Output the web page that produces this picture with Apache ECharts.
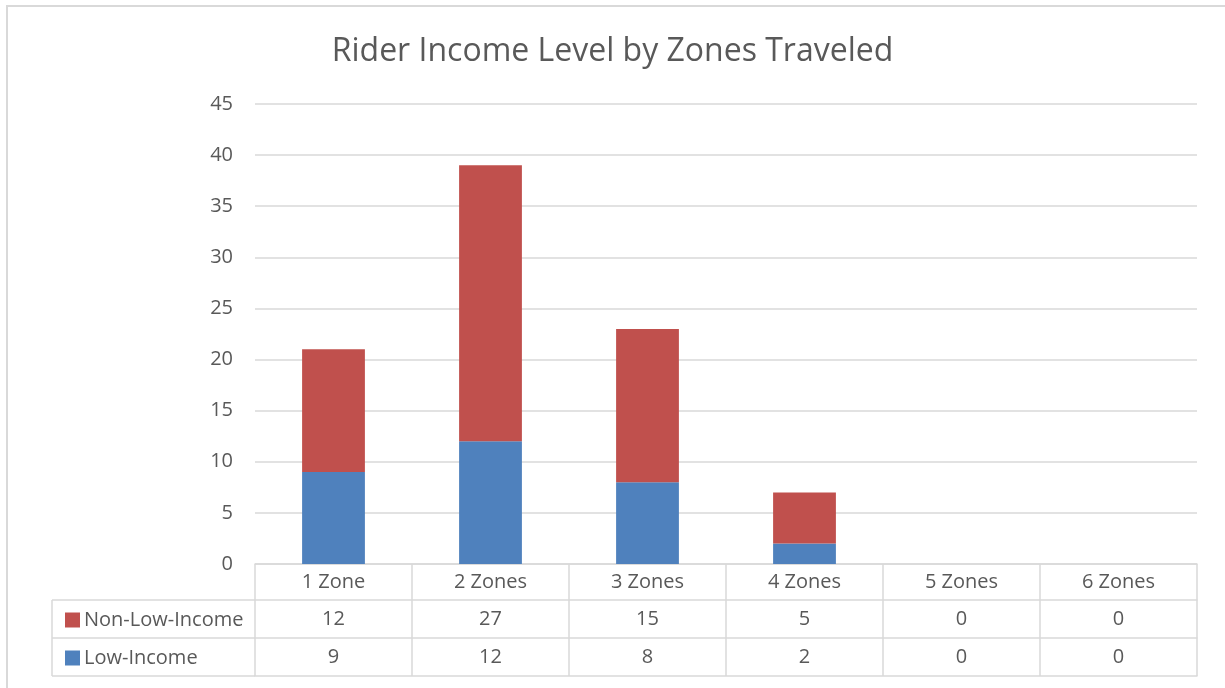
<!DOCTYPE html>
<html>
<head>
<meta charset="utf-8">
<script src="https://cdn.jsdelivr.net/npm/echarts@6/dist/echarts.min.js"></script>
<style>
  html, body { margin: 0; padding: 0; background: #fff; }
  #chart { width: 1225px; height: 688px; }
</style>
</head>
<body>
<div id="chart"></div>
<script>
const zones = ['1 Zone', '2 Zones', '3 Zones', '4 Zones', '5 Zones', '6 Zones'];
const lowIncome = [9, 12, 8, 2, 0, 0];
const nonLowIncome = [12, 27, 15, 5, 0, 0];

const textColor = '#595959';
const lineColor = '#D9D9D9';
const font = '"Open Sans", "Liberation Sans", sans-serif';

const myChart = echarts.init(document.getElementById('chart'));

// table row axes (value rows under the category axis)
const rowAxis = (data, offset, showLabel) => ({
  type: 'category',
  position: 'bottom',
  data: data,
  offset: offset,
  boundaryGap: true,
  axisLine: { show: true, lineStyle: { color: lineColor, width: 1.5 } },
  axisTick: { show: false },
  axisLabel: { show: showLabel, color: textColor, fontSize: 20, fontFamily: font, margin: 9 },
  splitLine: { show: false }
});

const option = {
  animation: false,
  backgroundColor: '#fff',
  title: {
    text: 'Rider Income Level by Zones Traveled',
    left: 'center',
    top: 31,
    textStyle: { color: textColor, fontSize: 32, fontWeight: 'normal', fontFamily: font }
  },
  legend: {
    orient: 'vertical',
    left: 60,
    top: 604,
    itemWidth: 15,
    itemHeight: 15,
    itemGap: 16,
    icon: 'rect',
    itemStyle: { borderWidth: 0 },
    data: ['Non-Low-Income', 'Low-Income'],
    textStyle: { color: textColor, fontSize: 20, fontFamily: font, lineHeight: 22, padding: [0, 0, 0, -1] }
  },
  grid: { left: 255, right: 28, top: 104, bottom: 124, containLabel: false },
  xAxis: [
    {
      type: 'category',
      data: zones,
      boundaryGap: true,
      axisLine: { show: true, lineStyle: { color: lineColor, width: 1.5 } },
      axisTick: { show: true, length: 112, lineStyle: { color: lineColor, width: 1.5 } },
      axisLabel: { color: textColor, fontSize: 20, fontFamily: font, margin: 8 }
    },
    rowAxis(nonLowIncome.map(String), 36, true),
    rowAxis(lowIncome.map(String), 74, true),
    rowAxis(zones, 112, false)
  ],
  yAxis: {
    type: 'value',
    min: 0,
    max: 45,
    interval: 5,
    axisLine: { show: false },
    axisTick: { show: false },
    axisLabel: { color: textColor, fontSize: 20, fontFamily: font, margin: 22 },
    splitLine: { lineStyle: { color: lineColor, width: 1.5 } }
  },
  series: [
    {
      name: 'Low-Income',
      type: 'bar',
      stack: 'total',
      data: lowIncome,
      barWidth: '40%',
      itemStyle: { color: '#4F81BD' }
    },
    {
      name: 'Non-Low-Income',
      type: 'bar',
      stack: 'total',
      data: nonLowIncome,
      barWidth: '40%',
      itemStyle: { color: '#C0504D' }
    }
  ],
  graphic: [
    { type: 'rect', shape: { x: 7, y: 6, width: 1240, height: 700 }, style: { fill: null, stroke: lineColor, lineWidth: 2 }, silent: true },
    { type: 'line', shape: { x1: 52, y1: 600, x2: 255, y2: 600 }, style: { stroke: lineColor, lineWidth: 1.5 } },
    { type: 'line', shape: { x1: 52, y1: 638, x2: 255, y2: 638 }, style: { stroke: lineColor, lineWidth: 1.5 } },
    { type: 'line', shape: { x1: 52, y1: 676, x2: 255, y2: 676 }, style: { stroke: lineColor, lineWidth: 1.5 } },
    { type: 'line', shape: { x1: 52, y1: 600, x2: 52, y2: 676 }, style: { stroke: lineColor, lineWidth: 1.5 } }
  ]
};

myChart.setOption(option);
</script>
</body>
</html>
